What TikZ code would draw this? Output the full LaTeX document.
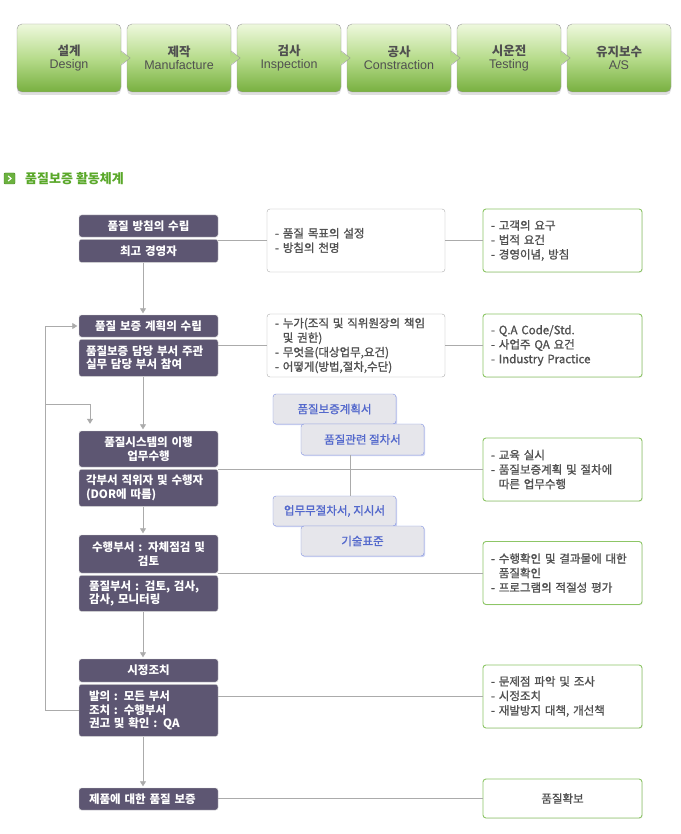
\documentclass[tikz,border=0pt]{standalone}
\usepackage{fontspec}
\setmainfont{Noto Sans CJK KR}
\newfontfamily\qafont{Noto Sans CJK KR}[FakeBold=1.2]
\newfontfamily\latinfont{Liberation Sans}
\usepackage{tikz}
\usetikzlibrary{positioning,arrows.meta,shadows}
\definecolor{qadark}{HTML}{5D5672}
\definecolor{qaline}{HTML}{ABABAB}
\definecolor{qatext}{HTML}{505050}
\definecolor{qagreen}{HTML}{8DC666}
\definecolor{qahead}{HTML}{5AA82A}
\definecolor{docblue}{HTML}{7F90E0}
\definecolor{docfill}{HTML}{E6E6EB}
\definecolor{doctext}{HTML}{5368CC}
\definecolor{stagetop}{HTML}{EEF8DD}
\definecolor{stagemid}{HTML}{B7DC8C}
\definecolor{stagebot}{HTML}{78B040}
\definecolor{stageline}{HTML}{9A9A9A}

\begin{document}
\begin{tikzpicture}[x=1pt, y=-1pt,
    stage/.style = {draw=stageline, rounded corners=5pt, top color=stagetop, bottom color=stagebot, middle color=stagemid,
      minimum width=104pt, minimum height=68pt, align=center, text=qatext, font=\fontsize{12.5}{13.5}\selectfont,
      drop shadow={shadow xshift=0pt, shadow yshift=-3pt, opacity=0.25}},
    lbox/.style = {draw=black!18, fill=qadark, rounded corners=2.5pt, minimum width=139pt, text width=119pt,
      inner xsep=10pt, inner ysep=2pt, text=white, font=\bfseries\fontsize{11.5}{13.5}\selectfont, align=center},
    lboxl/.style = {lbox, align=left},
    wide/.style = {text width=125pt, inner xsep=7pt},
    mbox/.style = {draw=qaline, fill=white, rounded corners=3pt, minimum width=178pt, minimum height=63pt,
      text width=162pt, inner xsep=8pt, align=left, text=qatext, font=\qafont\fontsize{11.5}{14.5}\selectfont},
    gbox/.style = {mbox, draw=qagreen, line width=0.9pt, minimum width=159pt, text width=143pt,
      drop shadow={shadow xshift=0.8pt, shadow yshift=-0.8pt, opacity=0.12}},
    doc/.style = {draw=docblue, fill=docfill, rounded corners=3pt, minimum width=123pt, minimum height=30pt,
      text=doctext, font=\qafont\fontsize{11.5}{13}\selectfont,
      drop shadow={shadow xshift=1.2pt, shadow yshift=-1.2pt, fill=docblue!70, opacity=0.6}},
    link/.style = {draw=qaline, line width=0.8pt},
    flow/.style = {link, -{Triangle[length=5pt,width=6pt]}, shorten >=1.5pt}]
    \useasboundingbox[fill=white] (0,0) rectangle (680,834);

    % process banner
    \node[stage] (s1) at (69,58) {{\bfseries 설계}\\\latinfont Design};
    \node[stage] (s2) at (179,58) {{\bfseries 제작}\\\latinfont Manufacture};
    \node[stage] (s3) at (289,58) {{\bfseries 검사}\\\latinfont Inspection};
    \node[stage] (s4) at (399,58) {{\bfseries 공사}\\\latinfont Constraction};
    \node[stage] (s5) at (509,58) {{\bfseries 시운전}\\\latinfont Testing};
    \node[stage] (s6) at (619,58) {{\bfseries 유지보수}\\\latinfont A/S};
    \fill[stagemid] ([shift={(-1pt,7pt)}]s1.east) -- ([xshift=9pt]s1.east) -- ([shift={(-1pt,-7pt)}]s1.east) -- cycle;
    \draw[stageline] ([yshift=7pt]s1.east) -- ([xshift=9pt]s1.east) -- ([yshift=-7pt]s1.east);
    \fill[stagemid] ([shift={(-1pt,7pt)}]s2.east) -- ([xshift=9pt]s2.east) -- ([shift={(-1pt,-7pt)}]s2.east) -- cycle;
    \draw[stageline] ([yshift=7pt]s2.east) -- ([xshift=9pt]s2.east) -- ([yshift=-7pt]s2.east);
    \fill[stagemid] ([shift={(-1pt,7pt)}]s3.east) -- ([xshift=9pt]s3.east) -- ([shift={(-1pt,-7pt)}]s3.east) -- cycle;
    \draw[stageline] ([yshift=7pt]s3.east) -- ([xshift=9pt]s3.east) -- ([yshift=-7pt]s3.east);
    \fill[stagemid] ([shift={(-1pt,7pt)}]s4.east) -- ([xshift=9pt]s4.east) -- ([shift={(-1pt,-7pt)}]s4.east) -- cycle;
    \draw[stageline] ([yshift=7pt]s4.east) -- ([xshift=9pt]s4.east) -- ([yshift=-7pt]s4.east);
    \fill[stagemid] ([shift={(-1pt,7pt)}]s5.east) -- ([xshift=9pt]s5.east) -- ([shift={(-1pt,-7pt)}]s5.east) -- cycle;
    \draw[stageline] ([yshift=7pt]s5.east) -- ([xshift=9pt]s5.east) -- ([yshift=-7pt]s5.east);

    % heading
    \node[draw=qahead!80!black, fill=qahead!90, minimum size=11pt, inner sep=0pt, rounded corners=1pt] (icon) at (9.5,178.5) {};
    \draw[white, line width=1.2pt] ([shift={(-1.3pt,2.5pt)}]icon.center) -- ([xshift=1.5pt]icon.center) -- ([shift={(-1.3pt,-2.5pt)}]icon.center);
    \node[anchor=west, inner sep=0pt, text=qahead, font=\bfseries\fontsize{13}{14}\selectfont] (title) at (25,179) {품질보증 활동체계};

    % main flow
    \node[lbox, minimum height=22pt] (p1) at (148.5,226) {품질 방침의 수립};
    \node[lbox, minimum height=23pt, below=2pt of p1] (p2) {최고 경영자};
    \node[lbox, minimum height=22pt] (q1) at (148.5,326) {품질 보증 계획의 수립};
    \node[lboxl, wide, minimum height=37pt, below=2pt of q1] (q2) {품질보증 담당 부서 주관\\실무 담당 부서 참여};
    \node[lbox, minimum height=36pt] (r1) at (148.5,449) {품질시스템의 이행\\업무수행};
    \node[lboxl, wide, minimum height=37pt, below=2pt of r1] (r2) {각부서 직위자 및 수행자\\(DOR에 따름)};
    \node[lbox, wide, minimum height=38pt] (t1) at (148.5,554) {수행부서 : 자체점검 및\\검토};
    \node[lboxl, minimum height=36pt, below=2pt of t1] (t2) {품질부서 : 검토, 검사,\\감사, 모니터링};
    \node[lbox, minimum height=23pt] (u1) at (148.5,670.5) {시정조치};
    \node[lboxl, minimum height=52pt, below=2pt of u1] (u2) {발의 : 모든 부서\\조치 : 수행부서\\권고 및 확인 : QA};
    \node[lboxl, minimum height=22pt] (v1) at (148.5,799) {제품에 대한 품질 보증};

    \draw[flow] ([xshift=-5.5pt]p2.south) -- ([xshift=-5.5pt]q1.north);
    \draw[flow] ([xshift=-5.5pt]q2.south) -- ([xshift=-5.5pt]r1.north);
    \draw[flow] ([xshift=-5.5pt]r2.south) -- ([xshift=-5.5pt]t1.north);
    \draw[flow] ([xshift=-5.5pt]t2.south) -- ([xshift=-5.5pt]u1.north);
    \draw[flow] ([xshift=-5.5pt]u2.south) -- ([xshift=-5.5pt]v1.north);

    % feedback
    \coordinate (fbk) at (45,404);
    \draw[flow] (u2.west) -- (u2.west -| fbk) |- (q1.west);
    \draw[flow, shorten >=7pt] (fbk) -| ([xshift=-58.5pt]r1.north);

    % details
    \node[mbox] (m1) at (356,240.5) {- 품질 목표의 설정\\- 방침의 천명};
    \node[mbox] (m2) at (356,345.5) {- 누가(조직 및 직위원장의 책임\\\phantom{- }및 권한)\\- 무엇을(대상업무,요건)\\- 어떻게(방법,절차,수단)};
    \node[gbox] (g1) at (562.5,240.5) {- 고객의 요구\\- 법적 요건\\- 경영이념, 방침};
    \node[gbox] (g2) at (562.5,345.5) {- Q.A Code/Std.\\- 사업주 QA 요건\\- Industry Practice};
    \node[gbox] (g3) at (562.5,469.5) {- 교육 실시\\- 품질보증계획 및 절차에\\\phantom{- }따른 업무수행};
    \node[gbox] (g4) at (562.5,573) {- 수행확인 및 결과물에 대한\\\phantom{- }품질확인\\- 프로그램의 적절성 평가};
    \node[gbox] (g5) at (562.5,696.5) {- 문제점 파악 및 조사\\- 시정조치\\- 재발방지 대책, 개선책};
    \node[gbox, minimum height=39pt, align=center] (g6) at (562.5,798.5) {품질확보};

    \draw[link] (m1.west) -- (m1.west -| p2.east);
    \draw[link] (m1.east) -- (g1.west);
    \draw[link] (m2.west) -- (m2.west -| q2.east);
    \draw[link] (m2.east) -- (g2.west);
    \draw[link] (g3.west) -- (g3.west -| r2.east);
    \draw[link] (g4.west) -- (g4.west -| t2.east);
    \draw[link] (g5.west) -- (g5.west -| u2.east);
    \draw[link] (g6.west) -- (g6.west -| v1.east);

    % documents
    \node[doc] (d1) at (334.5,409) {품질보증계획서};
    \node[doc, minimum height=31pt] (d2) at (362.5,439.5) {품질관련 절차서};
    \node[doc] (d3) at (334.5,511) {업무무절차서, 지시서};
    \draw[link] ([xshift=-12pt]d2.south) -- ([xshift=-12pt]d2.south |- d3.north);
    \node[doc] (d4) at (362.5,541) {기술표준};
\end{tikzpicture}
\end{document}
